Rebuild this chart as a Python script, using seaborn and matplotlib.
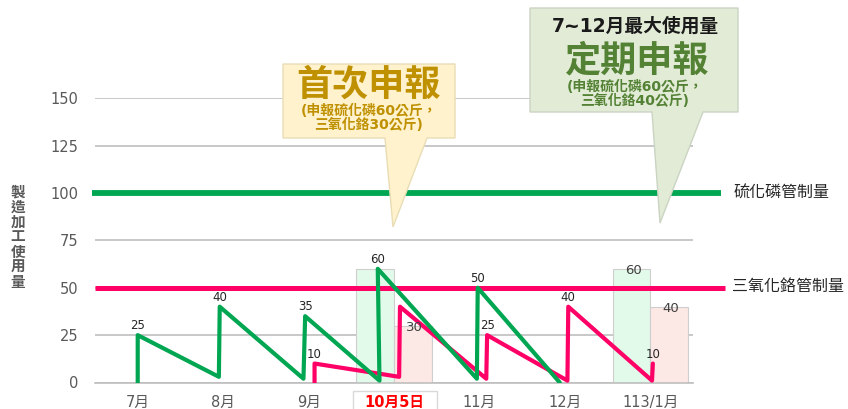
import numpy as np
import pandas as pd
import matplotlib
matplotlib.use("Agg")
import matplotlib.pyplot as plt
from matplotlib.patches import Polygon, Rectangle
import seaborn as sns

# categories on the x axis
months = ["7月", "8月", "9月", "10月5日", "11月", "12月", "113/1月"]

# 硫化磷 usage (sawtooth, x = month position)
p_x = [0.0, 0.0, 0.95, 0.96, 1.94, 1.96, 2.83, 2.81, 3.97, 3.98, 4.94]
p_y = [0, 25, 3, 40, 2, 35, 1, 60, 2, 50, 0]
p_peaks = [1, 3, 5, 7, 9]

# 三氧化鉻 usage
cr_x = [2.07, 2.07, 3.06, 3.07, 4.08, 4.09, 5.03, 5.04, 6.02, 6.03]
cr_y = [0, 10, 3, 40, 2, 25, 1, 40, 1, 10]
cr_peaks = [1, 5, 7, 9]

# declared amounts
bar_month = ["10月5日", "10月5日", "113/1月", "113/1月"]
bar_kind = ["硫化磷", "三氧化鉻", "硫化磷", "三氧化鉻"]
bar_val = [60, 30, 60, 40]

# control limits
p_limit = 100
cr_limit = 50

GREEN = "#00A651"
PINK = "#FF0066"
GREY = "#595959"
W, H = 848, 409

sns.set_theme(style="white")
plt.rcParams["font.family"] = ["DejaVu Sans", "Noto Sans CJK TC"]


def px(x, y):
    # pixel (top-left origin) -> figure fraction
    return x / W, 1 - y / H


fig = plt.figure(figsize=(W / 100, H / 100), dpi=100)
ax = fig.add_axes([95 / W, 1 - 382.5 / H, 598 / W, 284.2 / H])

bars = pd.DataFrame({"month": bar_month, "kind": bar_kind, "value": bar_val})
sns.barplot(data=bars, x="month", y="value", hue="kind", order=months,
            hue_order=["硫化磷", "三氧化鉻"], palette=["#E2FAEA", "#FCE8E4"],
            saturation=1, width=0.88, edgecolor="#CFCFCF", linewidth=0.8,
            legend=False, ax=ax)

sns.lineplot(x=p_x, y=p_y, sort=False, estimator=None, color=GREEN, lw=3,
             ax=ax, zorder=4)
sns.lineplot(x=cr_x, y=cr_y, sort=False, estimator=None, color=PINK, lw=3,
             ax=ax, zorder=3)

for xs, ys, peaks in [(p_x, p_y, p_peaks), (cr_x, cr_y, cr_peaks)]:
    for i in peaks:
        ax.annotate(f"{ys[i]}", (xs[i], ys[i]), xytext=(0, 2),
                    textcoords="offset points", ha="center", va="bottom",
                    fontsize=8.5, color="#262626", zorder=6)

# bar value labels (10月 green one is shared with the line label)
for patch in ax.patches:
    h = patch.get_height()
    if np.isnan(h) or h == 0:
        continue
    cx = patch.get_x() + patch.get_width() / 2
    if h == 60 and patch.get_x() < 3.5:
        continue
    ax.text(cx + 0.02, h - 1, f"{int(h)}", ha="center", va="center",
            fontsize=9.5, color="#404040", zorder=5)

# control limit lines
ax.plot([-0.53, 6.83], [p_limit, p_limit], color=GREEN, lw=4.2,
        solid_capstyle="butt", clip_on=False, zorder=2)
ax.plot([-0.5, 6.87], [cr_limit, cr_limit], color=PINK, lw=3.6,
        solid_capstyle="butt", clip_on=False, zorder=2)
ax.text(6.98, p_limit, "硫化磷管制量", ha="left", va="center", fontsize=11.5,
        color="#262626")
ax.text(6.96, cr_limit + 0.5, "三氧化鉻管制量", ha="left", va="center",
        fontsize=11.5, color="#262626")

ax.set_xlim(-0.5, 6.5)
ax.set_ylim(0, 150)
ax.set_yticks([0, 25, 50, 75, 100, 125, 150])
ax.set_xticks(range(len(months)))
ax.set_xticklabels(months)
ax.set_xlabel("")
ax.set_ylabel("")
ax.yaxis.grid(True, color="#BFBFBF", lw=1.2)
ax.set_axisbelow(True)
for s in ["left", "right", "top"]:
    ax.spines[s].set_visible(False)
ax.spines["bottom"].set_color("#BFBFBF")
ax.spines["bottom"].set_linewidth(1.2)
ax.tick_params(axis="both", length=0, labelsize=10.5, colors=GREY)
ax.tick_params(axis="y", pad=12)
ax.tick_params(axis="x", pad=9)
for t in ax.get_xticklabels():
    if t.get_text() == "10月5日":
        t.set_color("#FF0000")
        t.set_fontweight("bold")

# box around the declaration date
fig.patches.append(Rectangle(px(353, 415), 84 / W, 24 / H,
                             transform=fig.transFigure, fc="none",
                             ec="#D9D9D9", lw=1, zorder=1))

# y label, stacked characters
fig.text(18 / W, 1 - 237 / H, "\n".join("製造加工使用量"), ha="center",
         va="center", fontsize=10.5, fontweight="bold", color=GREY,
         linespacing=1.0)

# callout: first declaration
yellow = [(283, 64), (455, 64), (455, 138), (427, 138), (393, 227),
          (385, 138), (283, 138)]
fig.patches.append(Polygon([px(*p) for p in yellow], closed=True,
                           transform=fig.transFigure, fc="#FFF2CC",
                           ec="#E8DDB5", lw=1, zorder=5))
fig.text(*px(369, 85), "首次申報", ha="center", va="center", fontsize=26,
         fontweight="bold", color="#BF9000", zorder=6)
fig.text(*px(369, 118), "(申報硫化磷60公斤，\n三氧化鉻30公斤)", ha="center",
         va="center", fontsize=10, fontweight="bold", color="#BF9000",
         linespacing=1.0, zorder=6)

# callout: periodic declaration
green_box = [(530, 8), (738, 8), (738, 112), (703, 112), (660, 223),
             (652, 112), (530, 112)]
fig.patches.append(Polygon([px(*p) for p in green_box], closed=True,
                           transform=fig.transFigure, fc="#E2EBD6",
                           ec="#CBD4C2", lw=1, zorder=5))
fig.text(*px(635, 26), "7~12月最大使用量", ha="center", va="center",
         fontsize=13.5, fontweight="bold", color="#1A1A1A", zorder=6)
fig.text(*px(636, 61), "定期申報", ha="center", va="center", fontsize=26,
         fontweight="bold", color="#548235", zorder=6)
fig.text(*px(635, 94), "(申報硫化磷60公斤，\n三氧化鉻40公斤)", ha="center",
         va="center", fontsize=10, fontweight="bold", color="#548235",
         linespacing=1.0, zorder=6)

fig.savefig("out.png", dpi=100, facecolor="white")
